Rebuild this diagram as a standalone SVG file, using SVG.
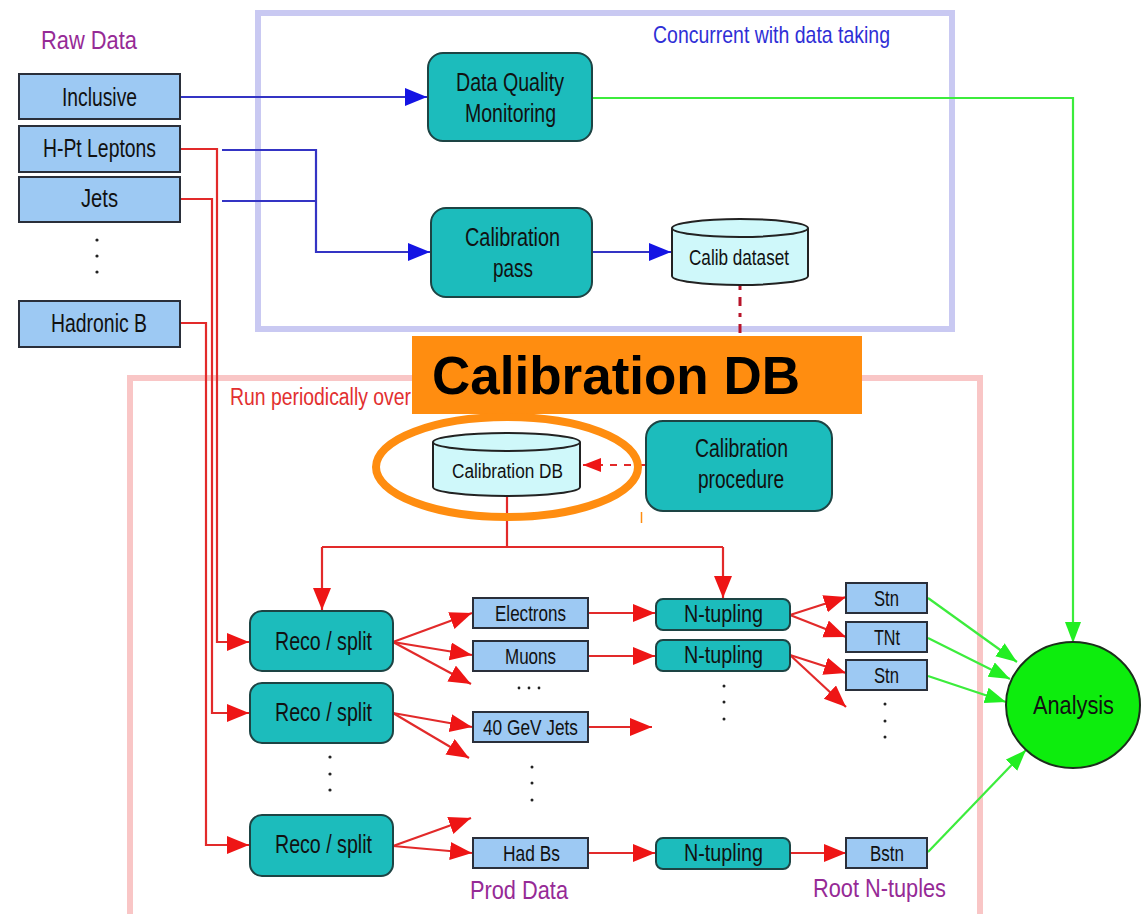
<svg xmlns="http://www.w3.org/2000/svg" width="1147" height="914" viewBox="0 0 1147 914">
  <style>
    text { font-family: "Liberation Sans", Arial, sans-serif; fill: #111; }
    .lbl { font-size: 26px; }
    .sm { font-size: 22px; }
    .purple { fill: #962a96; font-size: 26px; }
    .box-raw { fill: #9dc9f3; stroke: #2a2f3a; stroke-width: 2; }
    .box-proc { fill: #1cbcbc; stroke: #1d4444; stroke-width: 2; }
    .cyl { fill: #cff8fa; stroke: #222; stroke-width: 2; }
    .blue { fill: none; stroke: #3434c4; stroke-width: 2.2; }
    .red { fill: none; stroke: #e22a2a; stroke-width: 2.2; }
    .green { fill: none; stroke: #3cec3c; stroke-width: 2.2; }
    .dot { fill: #222; }
  </style>
  <defs>
    <marker id="ah-blue" markerUnits="userSpaceOnUse" markerWidth="24" markerHeight="20" refX="22" refY="9" orient="auto">
      <path d="M0,0 L22,9 L0,18 z" fill="#1414e4"/>
    </marker>
    <marker id="ah-red" markerUnits="userSpaceOnUse" markerWidth="24" markerHeight="20" refX="22" refY="9" orient="auto">
      <path d="M0,0 L22,9 L0,18 z" fill="#ee1515"/>
    </marker>
    <marker id="ah-red-sm" markerUnits="userSpaceOnUse" markerWidth="20" markerHeight="16" refX="18" refY="7" orient="auto">
      <path d="M0,0 L18,7 L0,14 z" fill="#ee1515"/>
    </marker>
    <marker id="ah-green" markerUnits="userSpaceOnUse" markerWidth="24" markerHeight="18" refX="21" refY="8" orient="auto">
      <path d="M0,0 L21,8 L0,16 z" fill="#22ee22"/>
    </marker>
  </defs>

  <rect width="1147" height="914" fill="#ffffff"/>

  <!-- stage frames -->
  <g id="frame-online">
    <rect x="258" y="13" width="694" height="316" fill="none" stroke="#c9c9f2" stroke-width="6"/>
    <text x="653" y="43" textLength="237" lengthAdjust="spacingAndGlyphs" style="font-size:24px;fill:#2f2fd6">Concurrent with data taking</text>
  </g>
  <g id="frame-periodic">
    <rect x="130" y="378" width="850" height="560" fill="none" stroke="#f9c6c6" stroke-width="6"/>
    <text x="230" y="405" textLength="181" lengthAdjust="spacingAndGlyphs" style="font-size:23px;fill:#e23030">Run periodically over</text>
  </g>

  <!-- connectors -->
  <g id="connectors">
    <!-- raw streams into online processing -->
    <path class="blue" d="M180,97 H427" marker-end="url(#ah-blue)"/>
    <path class="blue" d="M222,150 H316 V252 H430" marker-end="url(#ah-blue)"/>
    <path class="blue" d="M222,201 H316"/>
    <path class="blue" d="M592,252 H671" marker-end="url(#ah-blue)"/>

    <!-- monitoring straight to analysis -->
    <path class="green" d="M592,98 H1073 V643" marker-end="url(#ah-green)"/>

    <!-- calibration chain -->
    <path d="M740,286 V420" fill="none" stroke="#b8142a" stroke-width="3" stroke-dasharray="4,7,9,7"/>
    <path d="M645,465 H583" fill="none" stroke="#e22a2a" stroke-width="2.2" stroke-dasharray="7,7" marker-end="url(#ah-red-sm)"/>
    <path class="red" d="M507,497 V547"/>
    <path class="red" d="M322,547 H723"/>
    <path class="red" d="M322,547 V610" marker-end="url(#ah-red)"/>
    <path class="red" d="M723,547 V598" marker-end="url(#ah-red)"/>

    <!-- raw streams into reconstruction -->
    <path class="red" d="M180,149 H217 V642 H249" marker-end="url(#ah-red)"/>
    <path class="red" d="M180,199 H212 V713 H249" marker-end="url(#ah-red)"/>
    <path class="red" d="M180,323 H206 V845 H249" marker-end="url(#ah-red)"/>

    <!-- reco / split fan-out -->
    <path class="red" d="M393,642 L472,613" marker-end="url(#ah-red)"/>
    <path class="red" d="M393,642 L472,655" marker-end="url(#ah-red)"/>
    <path class="red" d="M393,642 L471,684" marker-end="url(#ah-red)"/>
    <path class="red" d="M393,713 L472,727" marker-end="url(#ah-red)"/>
    <path class="red" d="M393,713 L469,758" marker-end="url(#ah-red)"/>
    <path class="red" d="M393,846 L471,818" marker-end="url(#ah-red)"/>
    <path class="red" d="M393,846 L472,853" marker-end="url(#ah-red)"/>

    <!-- prod data into n-tupling -->
    <path class="red" d="M588,613 H655" marker-end="url(#ah-red)"/>
    <path class="red" d="M588,656 H655" marker-end="url(#ah-red)"/>
    <path class="red" d="M588,727 H652" marker-end="url(#ah-red)"/>
    <path class="red" d="M588,853 H655" marker-end="url(#ah-red)"/>

    <!-- n-tupling fan-out -->
    <path class="red" d="M790,615 L846,597" marker-end="url(#ah-red)"/>
    <path class="red" d="M790,615 L846,637" marker-end="url(#ah-red)"/>
    <path class="red" d="M790,655 L846,673" marker-end="url(#ah-red)"/>
    <path class="red" d="M790,655 L846,707" marker-end="url(#ah-red)"/>
    <path class="red" d="M790,853 H846" marker-end="url(#ah-red)"/>

    <!-- root n-tuples into analysis -->
    <path class="green" d="M928,598 L1017,662" marker-end="url(#ah-green)"/>
    <path class="green" d="M928,638 L1010,679" marker-end="url(#ah-green)"/>
    <path class="green" d="M928,676 L1006,702" marker-end="url(#ah-green)"/>
    <path class="green" d="M928,852 L1026,750" marker-end="url(#ah-green)"/>
  </g>

  <!-- raw data streams -->
  <g id="raw-data">
    <text class="purple" x="41" y="49" textLength="96" lengthAdjust="spacingAndGlyphs">Raw Data</text>
  </g>
  <g id="raw-inclusive">
    <rect class="box-raw" x="19" y="74" width="161" height="45"/>
    <text class="lbl" x="62" y="106" textLength="75" lengthAdjust="spacingAndGlyphs">Inclusive</text>
  </g>
  <g id="raw-hpt-leptons">
    <rect class="box-raw" x="19" y="126" width="161" height="46"/>
    <text class="lbl" x="43" y="157" textLength="113" lengthAdjust="spacingAndGlyphs">H-Pt Leptons</text>
  </g>
  <g id="raw-jets">
    <rect class="box-raw" x="19" y="177" width="161" height="45"/>
    <text class="lbl" x="81" y="207" textLength="37" lengthAdjust="spacingAndGlyphs">Jets</text>
  </g>
  <g id="raw-more">
    <circle class="dot" cx="97" cy="240" r="1.6"/>
    <circle class="dot" cx="97" cy="256" r="1.6"/>
    <circle class="dot" cx="97" cy="272" r="1.6"/>
  </g>
  <g id="raw-hadronic-b">
    <rect class="box-raw" x="19" y="301" width="161" height="46"/>
    <text class="lbl" x="51" y="332" textLength="96" lengthAdjust="spacingAndGlyphs">Hadronic B</text>
  </g>

  <!-- online processing -->
  <g id="data-quality-monitoring">
    <rect class="box-proc" x="428" y="53" width="164" height="88" rx="15"/>
    <text class="lbl" x="456" y="91" textLength="108" lengthAdjust="spacingAndGlyphs">Data Quality</text>
    <text class="lbl" x="465" y="122" textLength="91" lengthAdjust="spacingAndGlyphs">Monitoring</text>
  </g>
  <g id="calibration-pass">
    <rect class="box-proc" x="431" y="208" width="161" height="89" rx="15"/>
    <text class="lbl" x="465" y="246" textLength="95" lengthAdjust="spacingAndGlyphs">Calibration</text>
    <text class="lbl" x="493" y="277" textLength="40" lengthAdjust="spacingAndGlyphs">pass</text>
  </g>
  <g id="calib-dataset">
    <path class="cyl" d="M672,228 V276 A68,9 0 0 0 808,276 V228 A68,9 0 0 0 672,228 z"/>
    <path d="M672,228 A68,9 0 0 0 808,228" fill="none" stroke="#222" stroke-width="2"/>
    <text class="sm" x="689" y="265" textLength="100" lengthAdjust="spacingAndGlyphs">Calib dataset</text>
  </g>

  <!-- calibration -->
  <g id="calibration-procedure">
    <rect class="box-proc" x="646" y="421" width="186" height="90" rx="17"/>
    <text class="lbl" x="695" y="457" textLength="93" lengthAdjust="spacingAndGlyphs">Calibration</text>
    <text class="lbl" x="698" y="488" textLength="86" lengthAdjust="spacingAndGlyphs">procedure</text>
  </g>
  <g id="calibration-db">
    <path class="cyl" d="M433,442 V487 A73.5,9 0 0 0 580,487 V442 A73.5,9 0 0 0 433,442 z"/>
    <path d="M433,442 A73.5,9 0 0 0 580,442" fill="none" stroke="#222" stroke-width="2"/>
    <text x="452" y="478" textLength="111" lengthAdjust="spacingAndGlyphs" style="font-size:20px">Calibration DB</text>
  </g>

  <!-- reconstruction -->
  <g id="reco-split-1">
    <rect class="box-proc" x="250" y="611" width="143" height="60" rx="12"/>
    <text class="lbl" x="275" y="650" textLength="97" lengthAdjust="spacingAndGlyphs">Reco / split</text>
  </g>
  <g id="reco-split-2">
    <rect class="box-proc" x="250" y="683" width="143" height="60" rx="12"/>
    <text class="lbl" x="275" y="721" textLength="97" lengthAdjust="spacingAndGlyphs">Reco / split</text>
  </g>
  <g id="reco-more">
    <circle class="dot" cx="330" cy="757" r="1.6"/>
    <circle class="dot" cx="330" cy="774" r="1.6"/>
    <circle class="dot" cx="330" cy="790" r="1.6"/>
  </g>
  <g id="reco-split-3">
    <rect class="box-proc" x="250" y="815" width="143" height="61" rx="12"/>
    <text class="lbl" x="275" y="853" textLength="97" lengthAdjust="spacingAndGlyphs">Reco / split</text>
  </g>

  <!-- production datasets -->
  <g id="prod-electrons">
    <rect class="box-raw" x="473" y="598" width="115" height="30"/>
    <text class="sm" x="495" y="621" textLength="71" lengthAdjust="spacingAndGlyphs">Electrons</text>
  </g>
  <g id="prod-muons">
    <rect class="box-raw" x="473" y="641" width="115" height="30"/>
    <text class="sm" x="505" y="664" textLength="51" lengthAdjust="spacingAndGlyphs">Muons</text>
  </g>
  <g id="prod-more">
    <circle class="dot" cx="519" cy="688" r="1.4"/>
    <circle class="dot" cx="529" cy="688" r="1.4"/>
    <circle class="dot" cx="539" cy="688" r="1.4"/>
  </g>
  <g id="prod-40gev-jets">
    <rect class="box-raw" x="473" y="712" width="115" height="30"/>
    <text class="sm" x="483" y="735" textLength="95" lengthAdjust="spacingAndGlyphs">40 GeV Jets</text>
  </g>
  <g id="prod-more-2">
    <circle class="dot" cx="532" cy="767" r="1.5"/>
    <circle class="dot" cx="532" cy="783" r="1.5"/>
    <circle class="dot" cx="532" cy="800" r="1.5"/>
  </g>
  <g id="prod-had-bs">
    <rect class="box-raw" x="473" y="838" width="115" height="30"/>
    <text class="sm" x="503" y="861" textLength="57" lengthAdjust="spacingAndGlyphs">Had Bs</text>
  </g>
  <g id="prod-data">
    <text class="purple" x="470" y="899" textLength="98" lengthAdjust="spacingAndGlyphs">Prod Data</text>
  </g>

  <!-- n-tupling -->
  <g id="ntupling-1">
    <rect class="box-proc" x="656" y="599" width="134" height="31" rx="7"/>
    <text x="684" y="622" textLength="79" lengthAdjust="spacingAndGlyphs" style="font-size:23px">N-tupling</text>
  </g>
  <g id="ntupling-2">
    <rect class="box-proc" x="656" y="640" width="134" height="31" rx="7"/>
    <text x="684" y="663" textLength="79" lengthAdjust="spacingAndGlyphs" style="font-size:23px">N-tupling</text>
  </g>
  <g id="ntupling-more">
    <circle class="dot" cx="724" cy="686" r="1.5"/>
    <circle class="dot" cx="724" cy="702" r="1.5"/>
    <circle class="dot" cx="724" cy="719" r="1.5"/>
  </g>
  <g id="ntupling-3">
    <rect class="box-proc" x="656" y="838" width="134" height="31" rx="7"/>
    <text x="684" y="861" textLength="79" lengthAdjust="spacingAndGlyphs" style="font-size:23px">N-tupling</text>
  </g>

  <!-- root n-tuples -->
  <g id="root-stn-1">
    <rect class="box-raw" x="846" y="583" width="81" height="30"/>
    <text class="sm" x="874" y="606" textLength="25" lengthAdjust="spacingAndGlyphs">Stn</text>
  </g>
  <g id="root-tnt">
    <rect class="box-raw" x="846" y="622" width="81" height="30"/>
    <text class="sm" x="874" y="645" textLength="26" lengthAdjust="spacingAndGlyphs">TNt</text>
  </g>
  <g id="root-stn-2">
    <rect class="box-raw" x="846" y="660" width="81" height="30"/>
    <text class="sm" x="874" y="683" textLength="25" lengthAdjust="spacingAndGlyphs">Stn</text>
  </g>
  <g id="root-more">
    <circle class="dot" cx="885" cy="704" r="1.5"/>
    <circle class="dot" cx="885" cy="721" r="1.5"/>
    <circle class="dot" cx="885" cy="737" r="1.5"/>
  </g>
  <g id="root-bstn">
    <rect class="box-raw" x="846" y="838" width="81" height="30"/>
    <text class="sm" x="870" y="861" textLength="34" lengthAdjust="spacingAndGlyphs">Bstn</text>
  </g>
  <g id="root-ntuples">
    <text class="purple" x="813" y="897" textLength="133" lengthAdjust="spacingAndGlyphs">Root N-tuples</text>
  </g>

  <!-- analysis -->
  <g id="analysis">
    <ellipse cx="1073" cy="705" rx="67" ry="63" fill="#0ded0d" stroke="#1c2e1c" stroke-width="2"/>
    <text class="lbl" x="1033" y="714" textLength="81" lengthAdjust="spacingAndGlyphs">Analysis</text>
  </g>

  <!-- highlight callout -->
  <g id="callout-calibration-db">
    <rect x="412" y="336" width="450" height="78" fill="#ff8d10"/>
    <text x="432" y="394" textLength="368" lengthAdjust="spacingAndGlyphs" style="font-size:53px;font-weight:bold;fill:#000">Calibration DB</text>
    <ellipse cx="507" cy="467" rx="131" ry="50" fill="none" stroke="#ff8d10" stroke-width="8"/>
    <line x1="641.5" y1="512" x2="641.5" y2="523" stroke="#ff8d10" stroke-width="1.5"/>
  </g>
</svg>
